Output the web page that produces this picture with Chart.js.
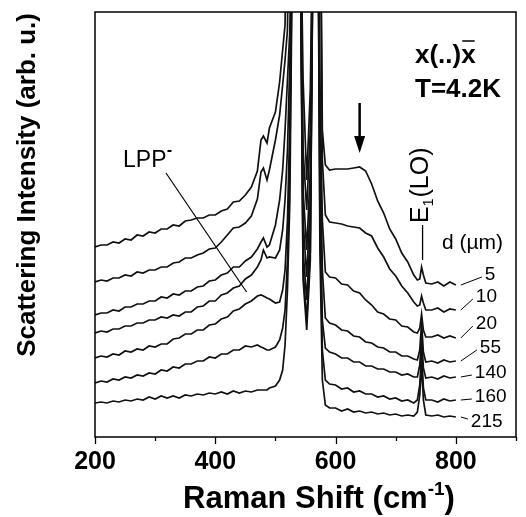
<!DOCTYPE html>
<html><head><meta charset="utf-8">
<script src="https://cdn.jsdelivr.net/npm/chart.js@4.4.0/dist/chart.umd.min.js"></script>
<style>html,body{margin:0;padding:0;background:#fff;}#wrap{width:526px;height:517px;}</style>
</head><body><div id="wrap"><canvas id="c" width="526" height="517"></canvas></div>
<script>
// Raman shift (cm^-1) sample positions
const shift = [200,210,220,230,240,250,260,270,280,290,300,310,320,330,340,350,360,370,380,390,400,410,420,430,440,450,460,470,
  476,480,486,490,500, 507,512,516,520,524,530, 540,546,552,558,564,570,574,578,583,
  590,600,610,620,630,640,650,660,670,680,690,700,710,720,730, 736,740,743,746,750, 760,770,780,790,800];

// Scattering intensity (arb. u., stacked spectra; values above the frame are off-scale peaks)
const d5 = [190,192,192,195,194,198,197,202,201,205,204,208,208,212,211,216,217,219,219,222,222,226,228,235,236,242,250,266,
  297,301,294,309,325, 355,387,412,600,600,600, 600,357,257,347,600,600,600,307,272,
  267,268,268,268,269,270,266,253,236,224,208,198,184,175,162, 157,158,170,162,154, 153,155,151,155,152];
const d10 = [155,157,156,159,159,162,161,165,164,167,167,170,170,174,175,179,179,182,184,188,189,195,202,209,210,214,221,238,
  265,269,257,267,297, 322,352,377,407,600,600, 600,287,227,307,600,600,600,277,222,
  215,214,213,211,210,209,204,201,189,180,168,161,151,144,135, 131,132,141,134,127, 127,129,125,128,127];
const d20 = [122,124,124,127,126,130,130,133,133,136,136,140,139,143,142,146,146,150,151,156,157,162,164,170,170,176,180,188,
  195,199,190,192,212, 237,267,307,357,407,600, 600,247,187,267,600,600,357,217,165,
  160,159,153,152,146,144,137,132,125,123,118,117,111,110,105, 104,109,123,107,100, 100,102,99,101,99];
const d55 = [104,106,105,108,108,111,111,114,114,117,117,120,119,122,121,125,125,130,131,136,136,142,144,149,151,158,162,170,
  177,187,179,180,179, 187,207,237,287,377,600, 600,217,160,237,600,600,317,167,119,
  114,112,107,106,101,100,95,94,90,89,85,85,81,81,78, 77,87,115,85,75, 76,74,77,75,76];
const d140 = [79,81,80,83,82,86,85,88,87,91,90,93,93,98,99,103,103,107,107,112,113,118,120,126,128,133,136,141,
  142,141,139,138,134, 135,147,167,217,317,600, 600,187,137,207,600,600,257,117,89,
  85,83,79,79,75,75,71,71,68,68,65,65,62,63,60, 60,72,102,69,59, 60,58,61,59,60];
const d160 = [54,56,55,58,57,60,59,62,61,64,63,67,66,70,69,73,73,76,76,80,79,83,83,87,87,91,90,92,
  90,89,87,87,90, 97,109,127,177,277,600, 600,167,117,187,600,600,217,87,57,
  53,52,48,49,45,46,43,43,40,41,38,39,36,37,34, 37,52,87,49,37, 37,35,38,36,37];
const d215 = [34,35,34,36,35,37,36,38,37,40,38,41,39,41,39,42,41,43,42,44,43,45,43,46,44,46,45,47,
  47,47,47,49,51, 57,67,92,147,237,600, 600,157,107,177,600,600,187,57,32,
  29,29,26,28,25,26,24,25,23,24,22,23,21,22,21, 25,42,72,37,22, 21,22,20,21,20];

const seriesList = [d5, d10, d20, d55, d140, d160, d215];
const thickness = ['5','10','20','55','140','160','215'];
const xLabelTicks = [200, 400, 600, 800];

const FONT = '"Liberation Sans", Arial, sans-serif';

const datasets = seriesList.map((s, k) => ({
  label: 'd = ' + thickness[k] + ' µm',
  data: shift.map((x, i) => ({x: x, y: s[i]})),
  borderColor: '#111',
  borderWidth: 1.7,
  pointRadius: 0,
  tension: 0,
  fill: false
}));

// layout of the d labels relative to each spectrum end (pixels)
const labelDy = [-10, -13, -14, -13, -4, -3, 5];
const labelDx = [29, 20, 20, 24, 19, 19, 15];

const deco = {
  id: 'deco',
  afterDraw(chart) {
    const ctx = chart.ctx, a = chart.chartArea;
    const xs = chart.scales.x, ys = chart.scales.y;
    ctx.save();
    ctx.strokeStyle = '#000'; ctx.fillStyle = '#000';
    // frame
    ctx.lineWidth = 1.5;
    ctx.strokeRect(a.left, a.top, a.right - a.left, a.bottom - a.top);
    // x ticks (outward)
    ctx.lineWidth = 1.3;
    xs.ticks.forEach(t => {
      const px = Math.round(xs.getPixelForValue(t.value)) + 0.5;
      const len = (t.value % 200 === 0) ? 7 : 4;
      ctx.beginPath(); ctx.moveTo(px, a.bottom); ctx.lineTo(px, a.bottom + len); ctx.stroke();
    });
    // y-axis title
    ctx.save();
    ctx.font = 'bold 26px ' + FONT;
    ctx.translate(28, a.top + 1);
    ctx.rotate(-Math.PI / 2);
    ctx.textAlign = 'right'; ctx.textBaseline = 'middle';
    ctx.fillText('Scattering Intensity (arb. u.)', 0, 0);
    ctx.restore();
    // x-axis title with superscript
    {
      const big = 'bold 31px ' + FONT, small = 'bold 19px ' + FONT;
      ctx.font = big;
      const p1 = 'Raman Shift (cm', p3 = ')';
      const w1 = ctx.measureText(p1).width, w3 = ctx.measureText(p3).width;
      ctx.font = small; const w2 = ctx.measureText('-1').width;
      const total = w1 + w2 + w3;
      let x0 = 319 - total / 2; const yb = 508;
      ctx.textAlign = 'left'; ctx.textBaseline = 'alphabetic';
      ctx.font = big; ctx.fillText(p1, x0, yb);
      ctx.font = small; ctx.fillText('-1', x0 + w1, yb - 13);
      ctx.font = big; ctx.fillText(p3, x0 + w1 + w2, yb);
    }
    // x(..)x-bar and temperature
    ctx.font = 'bold 26px ' + FONT;
    ctx.textAlign = 'left'; ctx.textBaseline = 'alphabetic';
    const s1 = 'x(..)x';
    ctx.fillText(s1, 415, 63);
    const wAll = ctx.measureText(s1).width, wx = ctx.measureText('x').width;
    ctx.lineWidth = 1.5;
    ctx.beginPath(); ctx.moveTo(415 + wAll - wx + 1, 41); ctx.lineTo(415 + wAll - 1, 41); ctx.stroke();
    ctx.fillText('T=4.2K', 415, 97);
    // arrow at the plateau of the thinnest layer
    {
      const ax = xs.getPixelForValue(640);
      const tip = ys.getPixelForValue(d5[shift.indexOf(640)]) - 14;
      ctx.lineWidth = 2.5;
      ctx.beginPath(); ctx.moveTo(ax, tip - 50); ctx.lineTo(ax, tip - 12); ctx.stroke();
      ctx.beginPath(); ctx.moveTo(ax - 5.5, tip - 17); ctx.lineTo(ax + 5.5, tip - 17); ctx.lineTo(ax, tip); ctx.closePath(); ctx.fill();
    }
    // E1(LO) label
    {
      const ex = xs.getPixelForValue(743);
      const peak = ys.getPixelForValue(d5[shift.indexOf(743)]);
      ctx.lineWidth = 1.3;
      ctx.beginPath(); ctx.moveTo(ex + 1, peak - 7); ctx.lineTo(ex + 1, peak - 42); ctx.stroke();
      ctx.save();
      ctx.translate(ex, peak - 44);
      ctx.rotate(-Math.PI / 2);
      ctx.textAlign = 'left'; ctx.textBaseline = 'middle';
      ctx.font = '25px ' + FONT;
      ctx.fillText('E', 0, 0);
      const wE = ctx.measureText('E').width;
      ctx.font = '14px ' + FONT;
      ctx.fillText('1', wE, 8);
      const w1 = ctx.measureText('1').width;
      ctx.font = '25px ' + FONT;
      ctx.fillText('(LO)', wE + w1 + 1, 0);
      ctx.restore();
    }
    // d (µm) header
    ctx.font = '21px ' + FONT; ctx.textAlign = 'left'; ctx.textBaseline = 'middle';
    ctx.fillText('d (µm)', 442, 243);
    // thickness labels with leaders
    const endPx = xs.getPixelForValue(shift[shift.length - 1]);
    ctx.font = '19px ' + FONT; ctx.lineWidth = 1;
    seriesList.forEach((s, k) => {
      const yEnd = ys.getPixelForValue(s[s.length - 1]);
      const ly = yEnd + labelDy[k], lx = endPx + labelDx[k];
      const ey = ly + (labelDy[k] < 0 ? 2 : -3);
      ctx.beginPath(); ctx.moveTo(endPx + 5, yEnd); ctx.lineTo(lx - 3, ey); ctx.stroke();
      ctx.fillText(thickness[k], lx, ly);
    });
    // LPP- label with leader
    ctx.font = '23px ' + FONT; ctx.textAlign = 'left'; ctx.textBaseline = 'alphabetic';
    ctx.fillText('LPP', 123, 167);
    const wl = ctx.measureText('LPP').width;
    ctx.lineWidth = 2; ctx.beginPath(); ctx.moveTo(123 + wl + 1, 151); ctx.lineTo(123 + wl + 5, 151); ctx.stroke();
    ctx.lineWidth = 1.2;
    ctx.beginPath(); ctx.moveTo(166, 173); ctx.lineTo(xs.getPixelForValue(452), ys.getPixelForValue(145)); ctx.stroke();
    ctx.restore();
  }
};

new Chart(document.getElementById('c'), {
  type: 'line',
  data: { datasets: datasets },
  options: {
    responsive: false,
    animation: false,
    devicePixelRatio: 1,
    layout: { padding: { left: 95, top: 12, right: 8, bottom: 42 } },
    plugins: { legend: { display: false }, tooltip: { enabled: false } },
    scales: {
      x: {
        type: 'linear', min: 200, max: 900,
        grid: { display: false, drawTicks: false },
        border: { display: false },
        afterFit: s => { s.height = 38; },
        ticks: {
          stepSize: 100, padding: 10, color: '#000',
          font: { family: FONT, size: 25, weight: 'bold' },
          maxRotation: 0, autoSkip: false,
          callback: v => xLabelTicks.includes(v) ? String(v) : ''
        }
      },
      y: { display: false, min: 0, max: 425 }
    }
  },
  plugins: [deco]
});
</script></body></html>
